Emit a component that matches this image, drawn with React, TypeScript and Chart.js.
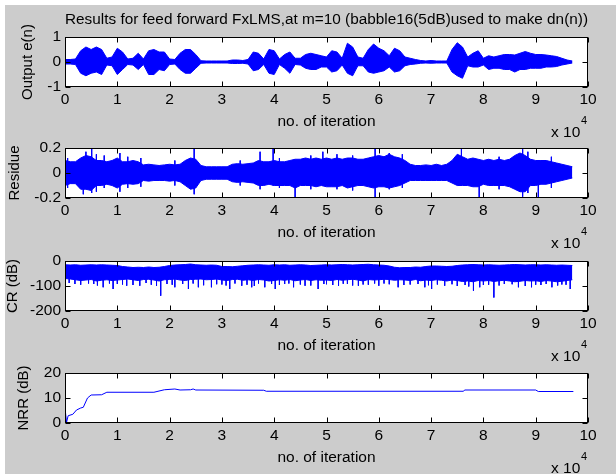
import React, { useEffect, useRef } from "react";
import { Chart, registerables } from "chart.js";

Chart.register(...registerables);

const FONT = "'Liberation Sans', Arial, Helvetica, sans-serif";
Chart.defaults.font.family = FONT;
Chart.defaults.color = "#000";

// ---------- data (x in units of 1e4 iterations) ----------
const TITLE = "Results for feed forward FxLMS,at m=10 (babble16(5dB)used to make dn(n))";
const X_LABEL = "no. of iteration";
const X_TICKS = [0, 1, 2, 3, 4, 5, 6, 7, 8, 9, 10];
const BIN = 0.1; // envelope bin width (x 1e4)

const Y_LABELS = ["Output e(n)", "Residue", "CR (dB)", "NRR (dB)"];
const Y_TICKS = [
  [-1, 0, 1],
  [-0.2, 0, 0.2],
  [-200, -100, 0],
  [0, 10, 20],
];

// Output e(n): upper / lower envelope per bin
const OUT_UP = [
  0.1, 0.1, 0.12, 0.45, 0.6, 0.5, 0.6, 0.5, 0.15, 0.2,
  0.55, 0.4, 0.12, 0.15, 0.35, 0.12, 0.45, 0.5, 0.4, 0.4,
  0.12, 0.1, 0.35, 0.5, 0.5, 0.3, 0.05, 0.04, 0.04, 0.04,
  0.04, 0.04, 0.08, 0.08, 0.06, 0.1, 0.4, 0.35, 0.12, 0.5,
  0.45, 0.12, 0.3, 0.4, 0.15, 0.15, 0.3, 0.35, 0.3, 0.25,
  0.2, 0.45, 0.4, 0.15, 0.75, 0.6, 0.2, 0.15, 0.5, 0.72,
  0.55, 0.45, 0.25, 0.55, 0.45, 0.2, 0.15, 0.1, 0.06, 0.04,
  0.06, 0.04, 0.04, 0.04, 0.5, 0.77, 0.6, 0.2, 0.35, 0.45,
  0.15, 0.25, 0.2, 0.25, 0.3, 0.3, 0.28, 0.35, 0.42, 0.35,
  0.3, 0.3, 0.28, 0.25, 0.22, 0.15, 0.08, 0.04,
];
const OUT_LO = [
  -0.08, -0.08, -0.1, -0.45, -0.55, -0.45, -0.4, -0.5, -0.12, -0.15,
  -0.5, -0.3, -0.1, -0.12, -0.3, -0.1, -0.5, -0.5, -0.3, -0.35,
  -0.1, -0.08, -0.3, -0.45, -0.45, -0.25, -0.05, -0.04, -0.04, -0.04,
  -0.04, -0.04, -0.06, -0.06, -0.05, -0.08, -0.35, -0.3, -0.1, -0.45,
  -0.5, -0.1, -0.25, -0.45, -0.1, -0.12, -0.25, -0.3, -0.3, -0.2,
  -0.2, -0.4, -0.35, -0.12, -0.45, -0.55, -0.15, -0.15, -0.4, -0.45,
  -0.4, -0.35, -0.2, -0.4, -0.35, -0.15, -0.1, -0.08, -0.05, -0.04,
  -0.05, -0.04, -0.04, -0.04, -0.4, -0.55, -0.65, -0.15, -0.2, -0.2,
  -0.12, -0.3, -0.25, -0.25, -0.3, -0.3, -0.4, -0.3, -0.3, -0.25,
  -0.25, -0.25, -0.2, -0.2, -0.18, -0.12, -0.08, -0.04,
];

// Residue envelope
const RES_UP = [
  0.1, 0.09, 0.09, 0.12, 0.14, 0.13, 0.1, 0.1, 0.09, 0.1,
  0.12, 0.09, 0.09, 0.1, 0.09, 0.065, 0.07, 0.065, 0.06, 0.065,
  0.07, 0.065, 0.07, 0.1, 0.12, 0.11, 0.06, 0.05, 0.05, 0.05,
  0.05, 0.05, 0.07, 0.075, 0.07, 0.075, 0.08, 0.1, 0.09, 0.09,
  0.1, 0.09, 0.09, 0.1, 0.11, 0.11, 0.12, 0.11, 0.12, 0.11,
  0.12, 0.11, 0.12, 0.11, 0.12, 0.12, 0.11, 0.11, 0.12, 0.13,
  0.14, 0.13, 0.15, 0.13, 0.12, 0.1, 0.07, 0.06, 0.06, 0.065,
  0.06, 0.07, 0.06, 0.07, 0.1, 0.15, 0.13, 0.11, 0.12, 0.11,
  0.1, 0.11, 0.1, 0.11, 0.1, 0.11, 0.14, 0.16, 0.14, 0.11,
  0.1, 0.1, 0.1, 0.09, 0.08, 0.07, 0.06, 0.05,
];
const RES_LO = [
  -0.1, -0.085, -0.085, -0.13, -0.13, -0.14, -0.1, -0.1, -0.09, -0.1,
  -0.12, -0.09, -0.085, -0.09, -0.085, -0.06, -0.065, -0.06, -0.06, -0.06,
  -0.065, -0.06, -0.07, -0.1, -0.13, -0.12, -0.06, -0.05, -0.05, -0.05,
  -0.05, -0.05, -0.07, -0.075, -0.07, -0.075, -0.08, -0.1, -0.1, -0.09,
  -0.1, -0.1, -0.1, -0.1, -0.12, -0.1, -0.1, -0.1, -0.11, -0.1,
  -0.11, -0.11, -0.11, -0.1, -0.12, -0.11, -0.1, -0.1, -0.11, -0.12,
  -0.11, -0.11, -0.12, -0.11, -0.1, -0.08, -0.06, -0.06, -0.06, -0.06,
  -0.06, -0.06, -0.06, -0.06, -0.08, -0.1, -0.1, -0.1, -0.11, -0.11,
  -0.09, -0.1, -0.1, -0.1, -0.1, -0.11, -0.13, -0.15, -0.15, -0.1,
  -0.1, -0.09, -0.09, -0.08, -0.07, -0.06, -0.05, -0.04,
];
const RES_SPK_X = [
  0.05, 0.35, 0.4, 0.51, 0.6, 0.75, 1.05, 1.2, 1.45, 2.1,
  2.47, 3.35, 3.73, 3.98, 4.1, 4.4, 4.7, 4.93, 5.2, 5.5,
  5.93, 6.2, 6.45, 7.58, 7.92, 8.3, 8.75, 8.85, 9.05, 9.3,
];
const RES_SPK_HI = [
  0.12, 0.05, 0.17, 0.2, 0.15, 0.14, 0.16, 0.13, 0.12, 0.1,
  0.2, 0.1, 0.17, 0.2, 0.12, 0.05, 0.14, 0.17, 0.15, 0.14,
  0.2, 0.16, 0.15, 0.2, 0.08, 0.13, 0.19, 0.17, 0.05, 0.13,
];
const RES_SPK_LO = [
  -0.12, -0.17, -0.08, -0.16, -0.15, -0.12, -0.15, -0.12, -0.11, -0.1,
  -0.17, -0.1, -0.13, -0.1, -0.12, -0.2, -0.13, -0.1, -0.13, -0.14,
  -0.2, -0.13, -0.12, -0.1, -0.2, -0.13, -0.19, -0.16, -0.2, -0.12,
];

// CR (dB) envelope
const CR_UP = [
  -15, -16, -15, -17, -16, -15, -16, -15, -16, -17,
  -18, -22, -24, -26, -25, -26, -24, -26, -25, -22,
  -18, -16, -15, -14, -12, -15, -16, -17, -16, -17,
  -22, -22, -23, -21, -19, -17, -16, -15, -16, -17,
  -15, -16, -15, -17, -16, -15, -16, -18, -17, -16,
  -15, -16, -15, -14, -15, -16, -15, -14, -13, -15,
  -16, -17, -20, -25, -27, -26, -26, -24, -25, -22,
  -20, -20, -21, -22, -21, -18, -16, -15, -14, -15,
  -16, -15, -16, -17, -16, -15, -14, -15, -16, -15,
  -15, -16, -15, -16, -17, -16, -17, -18,
];
const CR_LO = [
  -70, -72, -75, -78, -76, -74, -80, -77, -75, -78,
  -76, -74, -72, -75, -78, -74, -73, -76, -80, -75,
  -74, -72, -76, -78, -74, -73, -72, -75, -74, -72,
  -76, -78, -74, -73, -77, -75, -78, -74, -76, -80,
  -78, -75, -77, -74, -79, -76, -74, -78, -75, -77,
  -76, -78, -74, -77, -75, -73, -76, -80, -74, -76,
  -75, -73, -74, -77, -75, -76, -78, -74, -79, -76,
  -78, -75, -77, -80, -76, -78, -82, -80, -83, -78,
  -80, -78, -82, -79, -77, -80, -83, -81, -78, -80,
  -79, -82, -78, -80, -83, -81, -78, -75,
];
const CR_SPK_X = [
  0.19, 0.45, 0.73, 0.92, 1.0, 1.18, 1.43, 1.65, 1.83, 2.1,
  2.25, 2.36, 2.55, 2.8, 3.0, 3.15, 3.38, 3.57, 3.7, 3.82,
  4.02, 4.2, 4.37, 4.59, 4.84, 5.0, 5.23, 5.4, 5.61, 5.8,
  6.1, 6.37, 6.6, 6.88, 7.01, 7.26, 7.4, 7.81, 7.93, 8.0,
  8.2, 8.4, 8.67, 8.92, 9.0, 9.31, 9.5, 9.66,
  0.08, 0.3, 0.55, 0.62, 0.85, 1.1, 1.3, 1.55, 1.75, 1.95,
  2.05, 2.45, 2.65, 2.9, 3.08, 3.25, 3.48, 3.62, 3.95, 4.1,
  4.28, 4.5, 4.7, 4.95, 5.12, 5.32, 5.5, 5.7, 5.92, 6.0,
  6.2, 6.48, 6.75, 6.95, 7.12, 7.5, 7.65, 7.72, 8.1, 8.3,
  8.55, 8.8, 9.1, 9.2, 9.42, 9.58,
];
const CR_SPK_LO = [
  -92, -90, -105, -112, -92, -99, -99, -95, -139, -105,
  -92, -112, -105, -105, -94, -112, -99, -105, -90, -105,
  -112, -92, -105, -99, -112, -93, -99, -92, -99, -95,
  -90, -105, -94, -105, -112, -99, -93, -119, -105, -96,
  -146, -92, -105, -105, -95, -105, -94, -112,
  -88, -95, -92, -98, -90, -94, -96, -88, -100, -92,
  -95, -90, -97, -93, -98, -90, -95, -100, -92, -96,
  -90, -94, -98, -92, -96, -91, -98, -94, -90, -99,
  -93, -96, -92, -97, -94, -100, -96, -102, -95, -98,
  -93, -100, -96, -92, -98, -95,
];

// NRR (dB)
const NRR_X = [0, 0.01, 0.03, 0.06, 0.15, 0.22, 0.3, 0.35, 0.43, 0.5, 0.7, 0.8, 1.7, 1.9, 2.1, 2.2, 2.4, 2.45, 2.5, 3.8, 3.85, 7.62, 7.64, 9.0, 9.05, 9.72];
const NRR_Y = [0, 4, 0.3, 2.9, 3.5, 5.2, 6.0, 6.3, 10.0, 11.2, 11.3, 12.3, 12.3, 13.3, 13.6, 13.2, 13.3, 13.6, 13.2, 13.1, 12.7, 12.7, 13.2, 13.2, 12.6, 12.6];

// ---------- helpers ----------
const BLUE = "#0000ff";
const TEXT_SIZE = 15.5;
const env = (vals: number[]) => vals.map((v, i) => ({ x: Math.round(i * BIN * 100) / 100, y: v }));
const spikes = (xs: number[], hi: number[], lo: number[]) =>
  xs.flatMap((x, i) => [
    { x, y: hi[i] },
    { x, y: lo[i] },
    { x, y: null as any },
  ]);

const bandSets = (up: number[], lo: number[]) => [
  { data: env(up), borderColor: BLUE, backgroundColor: BLUE, borderWidth: 1, pointRadius: 0, fill: false },
  { data: env(lo), borderColor: BLUE, backgroundColor: BLUE, borderWidth: 1, pointRadius: 0, fill: "-1" },
];
const spikeSet = (data: any[]) => ({
  data,
  borderColor: BLUE,
  borderWidth: 1,
  pointRadius: 0,
  fill: false,
  spanGaps: false,
});

const matlabFrame = {
  id: "matlabFrame",
  beforeDraw(chart: any) {
    const { ctx, chartArea: a } = chart;
    ctx.save();
    ctx.fillStyle = "#ffffff";
    ctx.fillRect(a.left, a.top, a.right - a.left, a.bottom - a.top);
    ctx.restore();
  },
  afterDraw(chart: any) {
    const { ctx, chartArea: a, scales } = chart;
    ctx.save();
    ctx.strokeStyle = "#000";
    ctx.lineWidth = 1;
    const L = Math.round(a.left) + 0.5;
    const R = Math.round(a.right) - 0.5;
    const T = Math.round(a.top) + 0.5;
    const B = Math.round(a.bottom) - 0.5;
    ctx.strokeRect(L, T, R - L, B - T);
    ctx.beginPath();
    for (const t of scales.x.ticks) {
      const px = Math.round(scales.x.getPixelForValue(t.value)) + 0.5;
      ctx.moveTo(px, T);
      ctx.lineTo(px, T + 5);
      ctx.moveTo(px, B);
      ctx.lineTo(px, B - 5);
    }
    for (const t of scales.y.ticks) {
      const py = Math.round(scales.y.getPixelForValue(t.value)) + 0.5;
      ctx.moveTo(L, py);
      ctx.lineTo(L + 5, py);
      ctx.moveTo(R, py);
      ctx.lineTo(R - 5, py);
    }
    ctx.stroke();
    ctx.fillStyle = "#000";
    ctx.textAlign = "left";
    ctx.textBaseline = "alphabetic";
    ctx.font = `${TEXT_SIZE}px ${FONT}`;
    ctx.fillText("x 10", a.right - 37, a.bottom + 50);
    ctx.font = `11px ${FONT}`;
    ctx.fillText("4", a.right - 7, a.bottom + 37);
    ctx.restore();
  },
};

const Y_TITLE_PAD = [19, 6, 3.5, 15];

function buildConfig(i: number, datasets: any[]): any {
  const ticks = Y_TICKS[i];
  return {
    type: "line",
    data: { datasets },
    options: {
      animation: false,
      responsive: false,
      events: [],
      layout: { padding: { top: i === 0 ? 0 : 37, right: 28, left: 0, bottom: 0 } },
      plugins: {
        legend: { display: false },
        tooltip: { enabled: false },
        title: {
          display: i === 0,
          text: TITLE,
          color: "#000",
          font: { size: TEXT_SIZE, weight: "normal", lineHeight: 1.2 },
          padding: { top: 10, bottom: 8.4 },
          fullSize: false,
        },
      },
      scales: {
        x: {
          type: "linear",
          min: X_TICKS[0],
          max: X_TICKS[X_TICKS.length - 1],
          afterBuildTicks: (s: any) => {
            s.ticks = X_TICKS.map((v) => ({ value: v }));
          },
          afterFit: (s: any) => {
            s.height = 60;
          },
          grid: { display: false, drawTicks: false },
          border: { display: false },
          ticks: { padding: 3, color: "#000", font: { size: TEXT_SIZE }, maxRotation: 0, autoSkip: false, callback: (v: any) => String(v) },
          title: { display: true, text: X_LABEL, color: "#000", font: { size: TEXT_SIZE }, padding: { top: 0, bottom: 16 } },
        },
        y: {
          type: "linear",
          min: ticks[0],
          max: ticks[ticks.length - 1],
          afterBuildTicks: (s: any) => {
            s.ticks = ticks.map((v) => ({ value: v }));
          },
          afterFit: (s: any) => {
            s.width = 65;
          },
          grid: { display: false, drawTicks: false },
          border: { display: false },
          ticks: { padding: 4, color: "#000", font: { size: TEXT_SIZE }, autoSkip: false, callback: (v: any) => String(v) },
          title: { display: true, text: Y_LABELS[i], color: "#000", font: { size: 15 }, padding: { top: Y_TITLE_PAD[i], bottom: 0 } },
        },
      },
    },
    plugins: [matlabFrame],
  };
}

const CR_SPK_HI = CR_SPK_X.map((x) => CR_LO[Math.min(CR_LO.length - 1, Math.round(x / BIN))] + 5);

const PANEL_DATA = [
  () => bandSets(OUT_UP, OUT_LO),
  () => [...bandSets(RES_UP, RES_LO), spikeSet(spikes(RES_SPK_X, RES_SPK_HI, RES_SPK_LO))],
  () => [...bandSets(CR_UP, CR_LO), spikeSet(spikes(CR_SPK_X, CR_SPK_HI, CR_SPK_LO))],
  () => [
    {
      data: NRR_X.map((x, k) => ({ x, y: NRR_Y[k] })),
      borderColor: BLUE,
      borderWidth: 1,
      pointRadius: 0,
      fill: false,
      tension: 0,
    },
  ],
];

const PANEL_TOPS = [0, 111, 224, 336];
const CANVAS_W = 616;
const CANVAS_H = 147;

function Panel({ index }: { index: number }) {
  const ref = useRef<HTMLCanvasElement | null>(null);
  useEffect(() => {
    const chart = new Chart(ref.current as HTMLCanvasElement, buildConfig(index, PANEL_DATA[index]()));
    return () => chart.destroy();
  }, [index]);
  return (
    <canvas
      ref={ref}
      width={CANVAS_W}
      height={CANVAS_H}
      style={{ position: "absolute", left: 0, top: PANEL_TOPS[index], width: CANVAS_W, height: CANVAS_H }}
    />
  );
}

export default function App() {
  return (
    <div
      style={{
        position: "absolute",
        left: 0,
        top: 0,
        width: 616,
        height: 474,
        background: "#ffffff",
        overflow: "hidden",
      }}
    >
      <div style={{ position: "absolute", left: 5, top: 5, right: 0, bottom: 0, background: "#cccccc" }} />
      {[0, 1, 2, 3].map((i) => (
        <Panel key={i} index={i} />
      ))}
    </div>
  );
}
